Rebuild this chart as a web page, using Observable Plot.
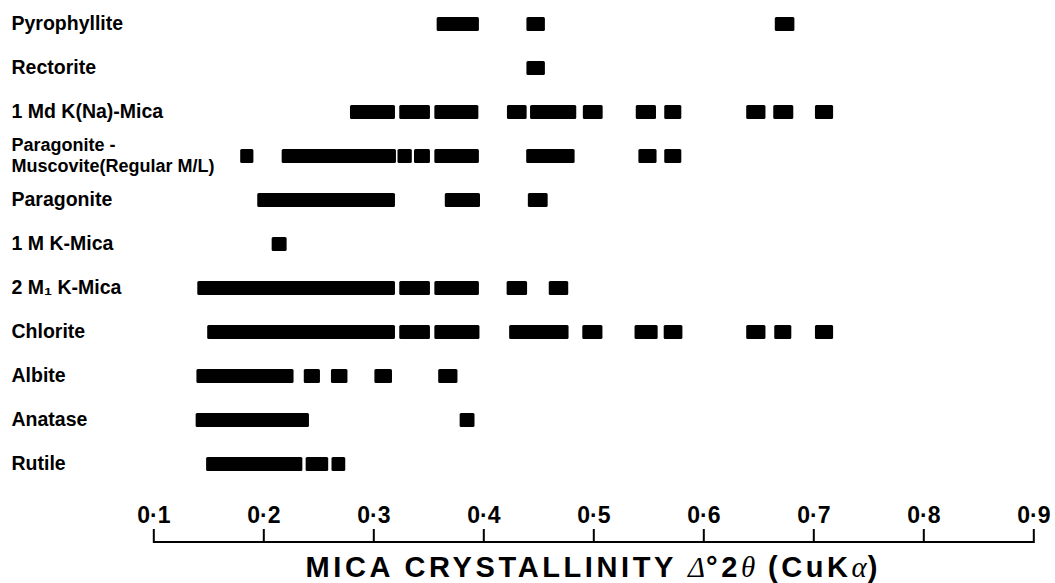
<!DOCTYPE html>
<html>
<head>
<meta charset="utf-8">
<script src="https://cdn.jsdelivr.net/npm/d3@7"></script>
<script src="https://cdn.jsdelivr.net/npm/@observablehq/plot@0.6"></script>
<style>
  html, body { margin: 0; padding: 0; background: #fff; }
  #chart { width: 1055px; height: 552px; }
  #chart svg { display: block; }
  #title { position: relative; width: 1055px; height: 31px; }
  #title .t {
    position: absolute; top: 0; line-height: 31px; white-space: nowrap;
    transform: translateX(-50%);
    font-family: "Liberation Sans", Arial, Helvetica, sans-serif;
    font-weight: bold; font-size: 29px; letter-spacing: 3.6px; color: #000;
  }
  #title .g { font-family: "Liberation Serif", "DejaVu Serif", serif; font-style: italic; font-weight: normal; letter-spacing: 1px; }
  g[aria-label="row labels"] text { letter-spacing: 0.6px; }
</style>
</head>
<body>
<div id="chart"></div>
<div id="title"><span class="t">MICA CRYSTALLINITY <span class="g">Δ</span>°2<span class="g">θ</span> (CuK<span class="g">α</span>)</span></div>
<script>
// ---- data ----
const categories = [
  "Pyrophyllite", "Rectorite", "1 Md K(Na)-Mica", "Paragonite - Muscovite(Regular M/L)",
  "Paragonite", "1 M K-Mica", "2 M1 K-Mica", "Chlorite", "Albite", "Anatase", "Rutile"
];
const categoryLabels = [
  "Pyrophyllite", "Rectorite", "1 Md K(Na)-Mica", "Paragonite -\nMuscovite(Regular M/L)",
  "Paragonite", "1 M K-Mica", "2 M\u2081 K-Mica", "Chlorite", "Albite", "Anatase", "Rutile"
];
const xTicks = [0.1, 0.2, 0.3, 0.4, 0.5, 0.6, 0.7, 0.8, 0.9];
const xTickLabels = ["0·1", "0·2", "0·3", "0·4", "0·5", "0·6", "0·7", "0·8", "0·9"];

// crystallinity ranges [start, end] for each mineral
const pyrophyllite = [[0.3576, 0.3960], [0.4392, 0.4560], [0.6650, 0.6828]];
const rectorite = [[0.4392, 0.4560]];
const mica1Md = [[0.2788, 0.3197], [0.3236, 0.3515], [0.3555, 0.3955], [0.4215, 0.4394], [0.4425, 0.4845],
  [0.4905, 0.5085], [0.5386, 0.5570], [0.5645, 0.5800], [0.6390, 0.6565], [0.6636, 0.6818], [0.7015, 0.7180]];
const paragoniteMuscovite = [[0.1790, 0.1910], [0.2167, 0.3206], [0.3220, 0.3350], [0.3370, 0.3515],
  [0.3555, 0.3960], [0.4390, 0.4830], [0.5410, 0.5575], [0.5645, 0.5800]];
const paragonite = [[0.1945, 0.3197], [0.3650, 0.3970], [0.4405, 0.4585]];
const mica1M = [[0.2076, 0.2212]];
const mica2M1 = [[0.1400, 0.3197], [0.3236, 0.3515], [0.3555, 0.3960], [0.4212, 0.4398], [0.4595, 0.4772]];
const chlorite = [[0.1490, 0.3197], [0.3236, 0.3515], [0.3555, 0.3965], [0.4235, 0.4775], [0.4900, 0.5083],
  [0.5375, 0.5585], [0.5640, 0.5810], [0.6390, 0.6565], [0.6645, 0.6800], [0.7015, 0.7180]];
const albite = [[0.1392, 0.2275], [0.2368, 0.2515], [0.2615, 0.2765], [0.3010, 0.3170], [0.3590, 0.3765]];
const anatase = [[0.1385, 0.2415], [0.3785, 0.3920]];
const rutile = [[0.1480, 0.2355], [0.2385, 0.2590], [0.2620, 0.2745]];

const segmentsByRow = [pyrophyllite, rectorite, mica1Md, paragoniteMuscovite, paragonite, mica1M,
  mica2M1, chlorite, albite, anatase, rutile];

const bars = categories.flatMap((c, i) => segmentsByRow[i].map(([a, b]) => ({row: c, x1: a, x2: b})));

// ---- layout ----
const W = 1055, H = 552, frameBottom = 543;
const sans = "'Liberation Sans', Arial, Helvetica, sans-serif";
const isTwoLine = (i) => categoryLabels[i].includes("\n");

const plot = Plot.plot({
  width: W,
  height: H,
  marginTop: 0,
  marginBottom: H - frameBottom,
  marginLeft: 153,
  marginRight: 22,
  x: {domain: [0.1, 0.9], range: [153.3, 1033.3], axis: null},
  y: {domain: categories, range: [15, 473], paddingInner: 0.685, paddingOuter: 0, axis: null},
  style: {background: "white", color: "black"},
  marks: [
    Plot.barX(bars, {x1: "x1", x2: "x2", y: "row", fill: "black", rx: 1.5}),
    Plot.text(categories, {
      y: d => d, text: (d, i) => categoryLabels[i],
      frameAnchor: "left", textAnchor: "start", dx: -142, dy: -1.5,
      fontSize: (d, i) => isTwoLine(i) ? 18 : 19.5,
      fontWeight: "bold", fontFamily: sans, lineHeight: 1.15, fill: "black",
      ariaLabel: "row labels"
    }),
    Plot.text(xTicks, {
      x: d => d, text: (d, i) => xTickLabels[i],
      frameAnchor: "bottom", lineAnchor: "bottom", dy: -21,
      fontSize: 23, fontWeight: "bold", fontFamily: sans, fill: "black"
    }),
    Plot.tickX(xTicks, {x: d => d, stroke: "black", strokeWidth: 2, insetTop: frameBottom - 14}),
    Plot.barX([xTicks], {x1: d => d[0], x2: d => d[d.length - 1], fill: "black", insetTop: frameBottom - 2})
  ]
});

document.getElementById("chart").appendChild(plot);
// the two-line Paragonite–Muscovite label is set a little smaller and tighter
d3.select(plot).selectAll('g[aria-label="row labels"] text')
  .filter(function () { return this.textContent.includes("Muscovite"); })
  .style("letter-spacing", "0.7px");
const xr = plot.scale("x").range;
document.querySelector("#title .t").style.left = ((xr[0] + xr[1]) / 2) + "px";
</script>
</body>
</html>
